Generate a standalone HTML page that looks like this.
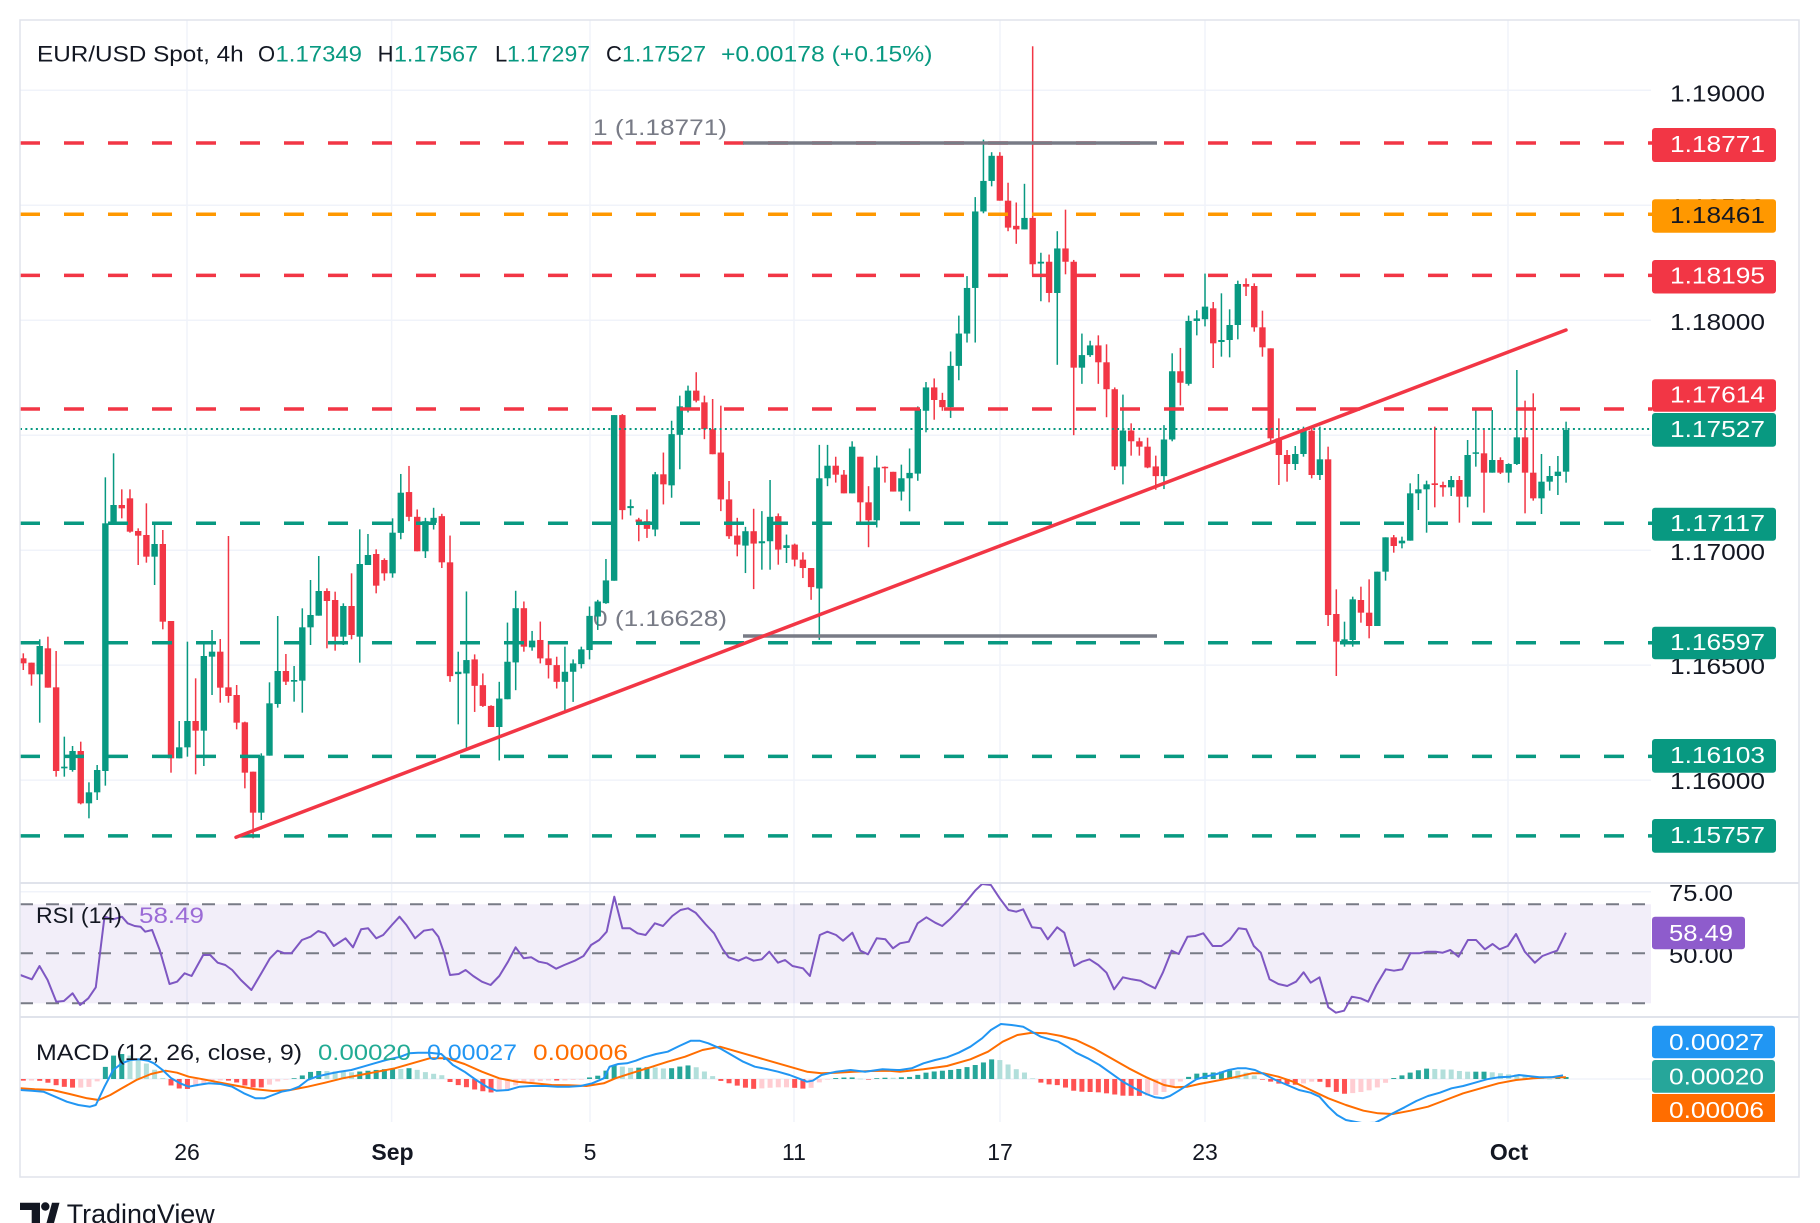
<!DOCTYPE html>
<html><head><meta charset="utf-8"><style>html,body{margin:0;padding:0;background:#fff}svg{display:block}</style></head>
<body>
<svg id="s" xmlns="http://www.w3.org/2000/svg" width="1820" height="1223" viewBox="0 0 1820 1223" font-family="'Liberation Sans', sans-serif">
<defs>
<clipPath id="cm"><rect x="20" y="1018" width="1631" height="104"/></clipPath>
<clipPath id="cmain"><rect x="20" y="20" width="1632" height="862"/></clipPath>
</defs>
<rect x="0" y="0" width="1820" height="1223" fill="#fff"/>
<!-- grid -->
<g stroke="#f0f3fa" stroke-width="1.5">
<line x1="187" y1="20" x2="187" y2="1122"/><line x1="391.6" y1="20" x2="391.6" y2="1122"/>
<line x1="590" y1="20" x2="590" y2="1122"/><line x1="794" y1="20" x2="794" y2="1122"/>
<line x1="1000" y1="20" x2="1000" y2="1122"/><line x1="1205" y1="20" x2="1205" y2="1122"/>
<line x1="1508" y1="20" x2="1508" y2="1122"/>
<line x1="20" y1="90.3" x2="1651" y2="90.3"/><line x1="20" y1="205.3" x2="1651" y2="205.3"/>
<line x1="20" y1="320.2" x2="1651" y2="320.2"/><line x1="20" y1="435.2" x2="1651" y2="435.2"/>
<line x1="20" y1="550.2" x2="1651" y2="550.2"/><line x1="20" y1="665.1" x2="1651" y2="665.1"/>
<line x1="20" y1="780.1" x2="1651" y2="780.1"/>
<line x1="20" y1="891.7" x2="1651" y2="891.7"/>
<line x1="20" y1="1079" x2="1651" y2="1079"/>
</g>
<!-- RSI background -->
<rect x="20" y="904.3" width="1631" height="99" fill="#7e57c2" fill-opacity="0.1"/>
<g stroke="#787b86" stroke-width="2" stroke-dasharray="13 13">
<line x1="20" y1="904.3" x2="1651" y2="904.3"/><line x1="20" y1="953.3" x2="1651" y2="953.3"/><line x1="20" y1="1003.3" x2="1651" y2="1003.3"/>
</g>
<!-- fib labels -->
<g font-size="22" fill="#787b86">
<text x="593" y="135" textLength="134" lengthAdjust="spacingAndGlyphs">1 (1.18771)</text>
<text x="593" y="626" textLength="134" lengthAdjust="spacingAndGlyphs">0 (1.16628)</text>
</g>
<g id="candles" clip-path="url(#cmain)"></g>
<!-- horizontal levels -->
<g stroke-width="3.5" stroke-dasharray="20 24" fill="none">
<line x1="20" y1="143" x2="1652" y2="143" stroke="#f23645"/>
<line x1="20" y1="214.2" x2="1652" y2="214.2" stroke="#ff9800"/>
<line x1="20" y1="275.4" x2="1652" y2="275.4" stroke="#f23645"/>
<line x1="20" y1="409" x2="1652" y2="409" stroke="#f23645"/>
<line x1="20" y1="523.3" x2="1652" y2="523.3" stroke="#089981"/>
<line x1="20" y1="642.8" x2="1652" y2="642.8" stroke="#089981"/>
<line x1="20" y1="756.4" x2="1652" y2="756.4" stroke="#089981"/>
<line x1="20" y1="835.9" x2="1652" y2="835.9" stroke="#089981"/>
</g>
<line x1="20" y1="429" x2="1652" y2="429" stroke="#089981" stroke-width="2" stroke-dasharray="2 3.3"/>
<line x1="743" y1="143" x2="1157" y2="143" stroke="#787b86" stroke-width="3.5"/>
<line x1="743" y1="636" x2="1157" y2="636" stroke="#787b86" stroke-width="3.5"/>
<line x1="236" y1="837.3" x2="1566" y2="330" stroke="#f23645" stroke-width="3.5" stroke-linecap="round"/>
<g id="rsi"></g>
<g id="macd" clip-path="url(#cm)"></g>
<!-- borders -->
<rect x="20" y="20" width="1779" height="1157" fill="none" stroke="#e0e3eb" stroke-width="1.5"/>
<line x1="20" y1="883" x2="1799" y2="883" stroke="#e0e3eb" stroke-width="2"/>
<line x1="20" y1="1017" x2="1799" y2="1017" stroke="#e0e3eb" stroke-width="2"/>
<!-- price axis plain labels -->
<g font-size="23" fill="#131722">
<text x="1670" y="101.5" textLength="95" lengthAdjust="spacingAndGlyphs">1.19000</text>
<text x="1670" y="215" textLength="95" lengthAdjust="spacingAndGlyphs">1.18500</text>
<text x="1670" y="330" textLength="95" lengthAdjust="spacingAndGlyphs">1.18000</text>
<text x="1670" y="445" textLength="95" lengthAdjust="spacingAndGlyphs">1.17500</text>
<text x="1670" y="560" textLength="95" lengthAdjust="spacingAndGlyphs">1.17000</text>
<text x="1670" y="674" textLength="95" lengthAdjust="spacingAndGlyphs">1.16500</text>
<text x="1670" y="789" textLength="95" lengthAdjust="spacingAndGlyphs">1.16000</text>
<text x="1669" y="901" textLength="64" lengthAdjust="spacingAndGlyphs">75.00</text>
<text x="1669" y="963" textLength="64" lengthAdjust="spacingAndGlyphs">50.00</text>
</g>
<!-- price boxes -->
<g>
<rect x="1652" y="128" width="124" height="34" rx="3" fill="#f23645"/>
<rect x="1652" y="199.3" width="124" height="33.5" rx="3" fill="#ff9800"/>
<rect x="1652" y="260" width="124" height="33.5" rx="3" fill="#f23645"/>
<rect x="1652" y="379.3" width="124" height="32.5" rx="3" fill="#f23645"/>
<rect x="1652" y="413" width="124" height="33.7" rx="3" fill="#089981"/>
<rect x="1652" y="507.7" width="124" height="33" rx="3" fill="#089981"/>
<rect x="1652" y="626.7" width="124" height="32.6" rx="3" fill="#089981"/>
<rect x="1652" y="739" width="124" height="33.7" rx="3" fill="#089981"/>
<rect x="1652" y="819" width="124" height="33.7" rx="3" fill="#089981"/>
<rect x="1652" y="916.7" width="93" height="32.6" rx="3" fill="#8e5ccc"/>
<rect x="1652" y="1025.7" width="123" height="32.6" rx="3" fill="#2196f3"/>
<rect x="1652" y="1060" width="123" height="32.7" rx="3" fill="#26a69a"/>
<rect x="1652" y="1094" width="123" height="28" fill="#ff6d00"/>
</g>
<g font-size="23" fill="#fff">
<text x="1670" y="152" textLength="95" lengthAdjust="spacingAndGlyphs">1.18771</text>
<text x="1670" y="223" textLength="95" lengthAdjust="spacingAndGlyphs" fill="#131722">1.18461</text>
<text x="1670" y="283.7" textLength="95" lengthAdjust="spacingAndGlyphs">1.18195</text>
<text x="1670" y="402.5" textLength="95" lengthAdjust="spacingAndGlyphs">1.17614</text>
<text x="1670" y="437" textLength="95" lengthAdjust="spacingAndGlyphs">1.17527</text>
<text x="1670" y="531.2" textLength="95" lengthAdjust="spacingAndGlyphs">1.17117</text>
<text x="1670" y="650" textLength="95" lengthAdjust="spacingAndGlyphs">1.16597</text>
<text x="1670" y="763" textLength="95" lengthAdjust="spacingAndGlyphs">1.16103</text>
<text x="1670" y="843" textLength="95" lengthAdjust="spacingAndGlyphs">1.15757</text>
<text x="1669" y="941" textLength="64" lengthAdjust="spacingAndGlyphs">58.49</text>
<text x="1669" y="1050" textLength="95" lengthAdjust="spacingAndGlyphs">0.00027</text>
<text x="1669" y="1084.5" textLength="95" lengthAdjust="spacingAndGlyphs">0.00020</text>
<text x="1669" y="1118" textLength="95" lengthAdjust="spacingAndGlyphs">0.00006</text>
</g>
<!-- header -->
<g font-size="22" fill="#131722">
<text x="37" y="61.5" textLength="206.6" lengthAdjust="spacingAndGlyphs">EUR/USD Spot, 4h</text>
<text x="258" y="61.5">O</text>
<text x="275.5" y="61.5" textLength="86.5" lengthAdjust="spacingAndGlyphs" fill="#089981">1.17349</text>
<text x="377.6" y="61.5">H</text>
<text x="394" y="61.5" textLength="84" lengthAdjust="spacingAndGlyphs" fill="#089981">1.17567</text>
<text x="495" y="61.5">L</text>
<text x="507" y="61.5" textLength="83" lengthAdjust="spacingAndGlyphs" fill="#089981">1.17297</text>
<text x="606" y="61.5">C</text>
<text x="622" y="61.5" textLength="84" lengthAdjust="spacingAndGlyphs" fill="#089981">1.17527</text>
<text x="721" y="61.5" textLength="211.5" lengthAdjust="spacingAndGlyphs" fill="#089981">+0.00178 (+0.15%)</text>
<text x="36" y="923" textLength="86" lengthAdjust="spacingAndGlyphs">RSI (14)</text>
<text x="139" y="923" textLength="65" lengthAdjust="spacingAndGlyphs" fill="#9b6bd6">58.49</text>
<text x="36" y="1060" textLength="266" lengthAdjust="spacingAndGlyphs">MACD (12, 26, close, 9)</text>
<text x="318" y="1060" textLength="93" lengthAdjust="spacingAndGlyphs" fill="#22ab94">0.00020</text>
<text x="427" y="1060" textLength="90" lengthAdjust="spacingAndGlyphs" fill="#2196f3">0.00027</text>
<text x="533" y="1060" textLength="95" lengthAdjust="spacingAndGlyphs" fill="#ff6d00">0.00006</text>
</g>
<!-- time axis -->
<g font-size="23" fill="#131722" text-anchor="middle">
<text x="187" y="1160">26</text>
<text x="392.5" y="1160" font-weight="bold">Sep</text>
<text x="590" y="1160">5</text>
<text x="794" y="1160">11</text>
<text x="1000" y="1160">17</text>
<text x="1205" y="1160">23</text>
<text x="1509" y="1160" font-weight="bold">Oct</text>
</g>
<!-- logo -->
<g fill="#131722">
<path d="M20 1202.7 H40 V1223 H31.7 V1210 H20 Z"/>
<circle cx="45.3" cy="1206.5" r="4.2"/>
<polygon points="46.5,1223 54,1223 59.5,1202.7 52,1202.7"/>
<text x="66.7" y="1223" font-size="27" textLength="148" lengthAdjust="spacingAndGlyphs">TradingView</text>
</g>
</svg>
<script>
(function(){
var NS='http://www.w3.org/2000/svg';
function el(p,t,a){var e=document.createElementNS(NS,t);for(var k in a)e.setAttribute(k,a[k]);p.appendChild(e);return e;}
function X(i){return 23.3+(i-1)*8.2063;}
var segs=[
[1,function(y){return 440+y/3;},"R 655 670 640 690,R 668 703 668 737,G 618 703 598 848,R 625 743 590 743,R 742 993 633 1010,G 980 985 890 1010,G 933 990 918 995,R 933 1090 905 1093,G 1057 1090 1027 1135,G 990 1057 975 1080,G 250 993 112 1037,G 195 250 40 250,R 195 205 148 235,R 175 275 148 278,R 273 287 265 375,R 285 350 190 368,G 312 350 250 435,R 312 545 270 568,R 543 955 543 998,G 922 955 843 955,G 843 922 605 950,R 843 872 715 1003,G 648 872 610 978,G 635 650 570 765,R 635 743 597 788,R 742 768 288 788,R 765 848 735 868,R 847 998 845 1045,R 995 1118 995 1195,G 947 1118 940 1140,G 790 947 727 947,G 693 792 528 803,R 693 725 642 735,G 720 725 678 785,G 562 722 505 818,G 525 562 420 615,G 453 527 348 527,R 453 483 445 625,R 480 590 455 632,G 498 590 490 615,R 498 585 400 598,G 372 590 268 668,G 345 375 282 375,R 342 437 328 460,R 360 400 355 422,G 278 400 235 413"],
[47,function(y){return 399+0.3347*y;},"G 280 400 224 419,R 278 352 200 365,R 352 455 330 455,G 365 455 355 475,G 355 370 325 390,R 350 488 343 505,R 488 828 408 845,G 815 822 755 972,G 780 820 575 1045,R 778 857 763 935,R 855 917 820 920,R 917 980 915 980,G 895 980 845 1080,G 785 897 668 897,G 625 787 573 870,R 625 740 605 755,G 722 742 693 752,R 720 775 665 790,R 775 795 723 835,R 795 845 770 865,G 815 845 740 930,G 790 815 778 905,G 748 792 740 805,G 648 750 620 778,G 605 650 600 690,G 542 610 478 612,G 48 543 48 543,R 48 332 45 360,G 320 326 300 348,R 360 368 355 425,R 365 388 330 415,G 225 390 218 410,R 225 255 160 315,G 105 258 65 295,G 22 107 -10 210,G -25 30 -40 40,R -25 5 -80 10,R 10 90 -10 120,R 90 165 0 165,R 160 300 20 335,R 300 410 245 418,R 408 435 355 470,G 395 438 382 520,R 395 432 328 568,G 425 431 335 510,G 352 425 242 510,R 350 450 342 495,G 437 445 405 490,R 435 480 432 500,R 480 505 458 535,R 505 562 505 600"],
[98,function(y){return 37.3+0.3591*y;},"G 1228 1535 1135 1678,G 1193 1228 1135 1250,R 1193 1218 1168 1240,R 1218 1270 1205 1270,G 1140 1270 1125 1270,R 1168 1295 1168 1350,R 1295 1345 1250 1420,G 1198 1345 1165 1365,R 1196 1200 1195 1240,R 1210 1265 1210 1265,G 1228 1265 1190 1290,G 1213 1228 1145 1320,G 1035 1215 1028 1235,G 975 1040 960 1100,R 975 1010 950 1065,R 1010 1030 990 1040,G 915 1030 875 1060,G 825 915 775 955,G 698 825 665 850,G 485 698 445 850,G 400 485 285 490,G 330 400 320 415,R 330 455 320 455,R 455 530 405 540,R 525 535 460 575,G 503 535 408 535,R 503 632 25 665,G 625 630 600 735,R 625 712 605 738,G 588 712 540 912,R 588 625 480 660,R 625 920 620 1108,G 885 920 825 965,G 858 885 845 890,R 858 905 830 965,R 905 980 855 1058,R 980 1195 975 1205,G 1095 1195 995 1245,R 1095 1125 1075 1165,R 1125 1140 1115 1165,R 1140 1198 1115 1200,R 1195 1222 1165 1260,G 1120 1222 1080 1258,G 930 1120 880 1125,R 930 962 865 1025,G 790 965 775 970,G 783 790 760 830,G 750 785 658 805"],
[146,function(y){return 250+y/3;},"R 175 280 156 354,G 270 276 130 320,G 225 270 178 322,G 102 225 92 268,R 102 110 85 138,R 108 232 100 245,R 232 292 182 320,R 295 565 295 575,R 565 615 505 705,R 615 642 600 695,G 612 642 588 660,G 538 612 530 620,R 542 675 535 685,G 628 675 530 690,R 628 1095 590 1128,R 1092 1175 1018 1278,G 1168 1178 1115 1190,G 1048 1170 1040 1190,R 1050 1088 1010 1118,R 1088 1128 988 1165,G 965 1128 965 1128,G 862 965 862 992,R 862 888 855 908,G 872 880 860 895,G 730 872 700 872,G 718 730 672 780,G 703 718 692 848,R 700 705 530 772,R 705 712 695 740,G 690 712 678 738,R 690 740 678 818,G 615 740 570 772,G 607 611 478 650,R 610 668 540 788,G 630 668 480 668,R 630 668 622 672,G 642 668 640 698,G 562 642 360 645,R 562 668 452 790,R 668 745 430 752,G 695 745 612 792,G 678 695 648 722,G 665 678 618 735,G 540 665 515 698"]
];
var gc=document.getElementById('candles');
segs.forEach(function(s){
 var st=s[0],f=s[1];
 s[2].split(',').forEach(function(c,j){
  var p=c.trim().split(/\s+/);var i=st+j;var x=X(i);
  var col=p[0]==='G'?'#089981':'#f23645';
  var bt=f(+p[1]),bb=f(+p[2]),wt=f(+p[3]),wb=f(+p[4]);
  el(gc,'rect',{x:(x-0.75).toFixed(2),y:wt.toFixed(2),width:1.5,height:Math.max(wb-wt,1).toFixed(2),fill:col});
  el(gc,'rect',{x:(x-3.2).toFixed(2),y:bt.toFixed(2),width:6.4,height:Math.max(bb-bt,1.5).toFixed(2),fill:col});
 });
});
function tr(a,x0,sx){var r=[];for(var k=0;k<a.length;k+=2)r.push([x0+sx*a[k],870+a[k+1]/3]);return r;}
var rsi7=[35,315,55,328,68,288,82,330,97,395,110,393,125,370,138,405,152,385,165,352,180,140,195,148,210,140,220,160,232,168,242,170,250,185,262,180,275,240,292,342,305,335,318,310,330,318,350,255,362,255,375,278,388,285,400,300,415,330,433,360,450,310,465,265,478,242,490,250,502,250,520,210,535,200,548,183,560,190,575,228,595,205,608,232,622,178,634,175,648,205,660,195,675,165,688,140,700,165,715,205,730,182,745,178,755,200,765,250,775,315,790,312,802,300,815,318,830,335,845,345,860,318,875,275,888,232,902,265,915,262,928,275,942,280,958,296,972,285,990,272,1005,258,1018,225,1032,210,1045,185,1058,80,1072,175,1085,175,1098,190,1112,195,1128,160,1142,168,1158,138,1172,120,1185,115,1198,128,1215,162,1230,190,1245,238,1255,262,1272,272,1285,262,1298,272,1312,268,1325,245,1340,278,1352,270,1365,288,1383,295,1395,318,1412,195,1425,185,1440,195,1452,212,1468,188,1482,242,1495,253,1510,205,1525,208,1538,235];
var rsi8=[0,220,15,215,30,160,45,142,60,158,72,168,85,148,100,120,115,90,128,62,140,42,155,45,170,85,185,120,198,125,210,118,225,172,240,175,252,208,268,172,280,188,297,288,310,275,323,268,338,285,352,308,365,358,380,322,395,328,410,332,420,342,435,355,448,308,463,242,475,252,490,200,503,198,517,190,533,228,548,228,562,210,577,175,590,178,603,228,615,248,630,328,645,342,660,348,675,335,688,307,700,338,715,322,730,412,743,428,757,422,770,380,785,385,798,395,812,345,828,298,842,302,856,298,870,250,885,250,898,245,913,245,925,248,938,240,952,260,968,210,982,210,997,238,1010,222,1022,238,1036,228,1050,192,1065,245,1082,278,1095,258,1110,248,1120,242,1135,188];
var blue7=[35,660,55,662,75,665,95,680,115,695,135,705,155,710,165,705,180,650,195,600,210,580,225,570,240,568,255,572,265,580,280,600,295,625,310,640,325,650,340,645,360,640,380,642,400,650,420,670,440,685,455,685,470,675,485,665,500,660,515,650,530,630,545,620,565,612,585,605,605,600,625,590,645,580,665,570,690,560,705,550,720,548,740,548,760,552,780,585,800,605,820,630,840,652,855,662,875,660,895,650,915,648,940,648,960,650,980,650,1000,648,1020,640,1040,625,1050,590,1065,582,1080,580,1095,572,1110,562,1130,552,1150,545,1170,528,1190,512,1205,512,1220,520,1240,535,1260,555,1280,575,1300,590,1320,597,1340,605,1360,615,1375,625,1390,635,1400,632,1415,615,1440,605,1465,600,1490,605,1520,598,1545,600];
var orange7=[35,655,60,658,90,660,120,672,150,685,170,690,190,675,210,655,235,630,260,612,285,602,305,608,325,620,350,628,380,638,410,648,440,658,470,663,500,660,530,650,560,638,590,625,620,615,650,605,680,595,710,580,740,565,770,565,800,582,830,605,860,625,890,635,920,640,950,645,980,646,1010,648,1040,640,1060,625,1090,608,1120,592,1150,575,1180,560,1210,540,1240,530,1270,545,1300,560,1330,575,1360,590,1390,605,1415,610,1440,608,1470,605,1500,603,1530,602];
var blue8=[0,600,20,595,40,580,60,570,80,562,100,548,120,530,140,505,155,480,172,462,190,465,210,470,225,485,240,500,255,508,270,515,285,530,300,548,320,565,340,585,360,610,380,635,400,655,420,672,435,682,448,685,460,678,475,662,490,645,505,628,520,620,540,612,560,600,575,595,590,595,605,600,620,612,640,630,660,645,680,660,700,668,715,680,730,710,745,735,760,750,775,755,790,760,810,758,825,745,840,730,860,712,880,693,900,678,920,668,940,655,960,648,980,638,1000,628,1020,622,1040,620,1055,615,1070,618,1090,622,1110,622,1130,616];
var orange8=[0,605,40,598,80,588,120,568,150,545,175,515,200,495,225,488,250,490,275,498,300,510,330,535,360,565,390,595,420,622,450,645,470,652,490,650,510,642,540,632,570,622,600,610,620,610,645,620,670,635,700,660,730,685,760,705,790,722,815,730,840,732,870,722,900,710,930,690,960,670,990,655,1020,640,1050,630,1080,625,1110,622,1135,622];
var rsi=tr(rsi7,0,0.5806).concat(tr(rsi8,900,0.5867));
var blue=tr(blue7,0,0.5806).concat(tr(blue8,900,0.5867));
var orange=tr(orange7,0,0.5806).concat(tr(orange8,900,0.5867));
function pts(a){return a.map(function(p){return p[0].toFixed(1)+','+p[1].toFixed(1);}).join(' ');}
el(document.getElementById('rsi'),'polyline',{points:pts(rsi),fill:'none',stroke:'#7e57c2','stroke-width':2,'stroke-linejoin':'round'});
function interp(P,x){if(x<=P[0][0])return P[0][1];for(var k=1;k<P.length;k++){if(x<=P[k][0]){var a=P[k-1],b=P[k];if(b[0]===a[0])return b[1];return a[1]+(b[1]-a[1])*(x-a[0])/(b[0]-a[0]);}}return P[P.length-1][1];}
var gm=document.getElementById('macd');var zero=1079;var prev=0;
for(var i=1;i<=189;i++){var x=X(i);var v=interp(orange,x)-interp(blue,x);var col;
 if(v>=0)col=(v>=prev)?'#26a69a':'#b2dfdb';else col=(v<=prev)?'#ff5252':'#ffcdd2';prev=v;
 el(gm,'rect',{x:(x-2.5).toFixed(2),y:(v>=0?zero-v:zero).toFixed(2),width:5,height:Math.max(Math.abs(v),0.6).toFixed(2),fill:col});}
el(gm,'polyline',{points:pts(orange),fill:'none',stroke:'#ff6d00','stroke-width':2,'stroke-linejoin':'round'});
el(gm,'polyline',{points:pts(blue),fill:'none',stroke:'#2196f3','stroke-width':2,'stroke-linejoin':'round'});
})();
</script>
</body></html>
